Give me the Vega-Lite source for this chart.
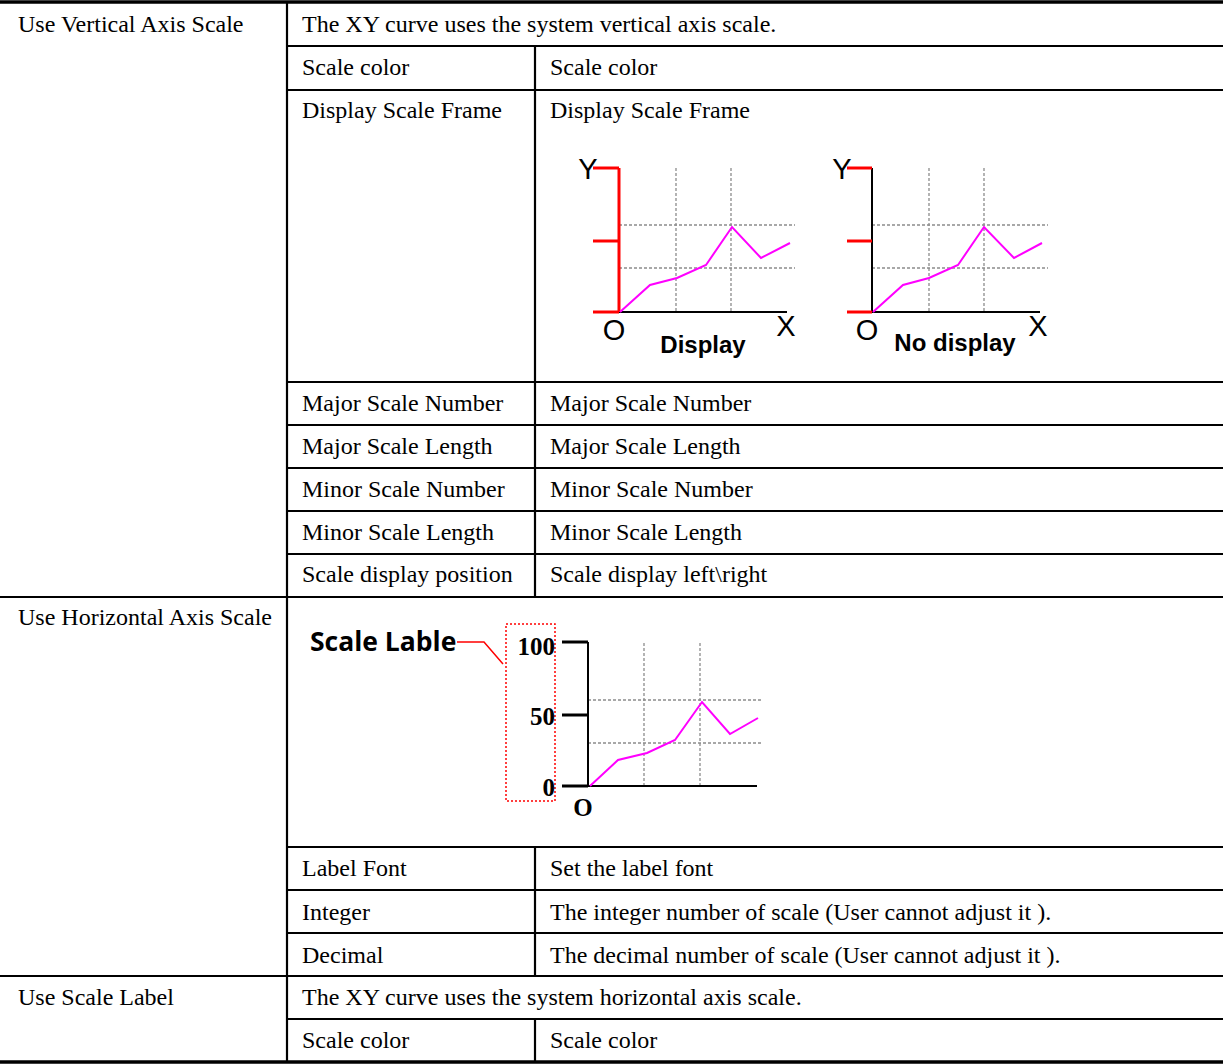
{
  "$schema": "https://vega.github.io/schema/vega-lite/v6.json",
  "width": 1223,
  "height": 1064,
  "padding": 0,
  "autosize": "none",
  "background": "white",
  "config": {"view": {"stroke": null}},
  "datasets": {
    "thick": [
      {"x": 0, "x2": 1223, "y": 2, "y2": 2},
      {"x": 0, "x2": 1223, "y": 1062, "y2": 1062}
    ],
    "grid": [
      {"x": 287, "x2": 1223, "y": 46, "y2": 46},
      {"x": 287, "x2": 1223, "y": 90, "y2": 90},
      {"x": 287, "x2": 1223, "y": 382, "y2": 382},
      {"x": 287, "x2": 1223, "y": 425, "y2": 425},
      {"x": 287, "x2": 1223, "y": 468, "y2": 468},
      {"x": 287, "x2": 1223, "y": 511, "y2": 511},
      {"x": 287, "x2": 1223, "y": 554, "y2": 554},
      {"x": 0, "x2": 1223, "y": 597, "y2": 597},
      {"x": 287, "x2": 1223, "y": 847, "y2": 847},
      {"x": 287, "x2": 1223, "y": 890, "y2": 890},
      {"x": 287, "x2": 1223, "y": 933, "y2": 933},
      {"x": 0, "x2": 1223, "y": 976, "y2": 976},
      {"x": 287, "x2": 1223, "y": 1019, "y2": 1019},
      {"x": 287, "x2": 287, "y": 3, "y2": 1062},
      {"x": 535, "x2": 535, "y": 46, "y2": 597},
      {"x": 535, "x2": 535, "y": 847, "y2": 976},
      {"x": 535, "x2": 535, "y": 1019, "y2": 1062}
    ],
    "cells": [
      {"x": 18, "y": 25, "label": "Use Vertical Axis Scale"},
      {"x": 302, "y": 25, "label": "The XY curve uses the system vertical axis scale."},
      {"x": 302, "y": 68, "label": "Scale color"},
      {"x": 550, "y": 68, "label": "Scale color"},
      {"x": 302, "y": 111, "label": "Display Scale Frame"},
      {"x": 550, "y": 111, "label": "Display Scale Frame"},
      {"x": 302, "y": 404, "label": "Major Scale Number"},
      {"x": 550, "y": 404, "label": "Major Scale Number"},
      {"x": 302, "y": 447, "label": "Major Scale Length"},
      {"x": 550, "y": 447, "label": "Major Scale Length"},
      {"x": 302, "y": 490, "label": "Minor Scale Number"},
      {"x": 550, "y": 490, "label": "Minor Scale Number"},
      {"x": 302, "y": 533, "label": "Minor Scale Length"},
      {"x": 550, "y": 533, "label": "Minor Scale Length"},
      {"x": 302, "y": 575, "label": "Scale display position"},
      {"x": 550, "y": 575, "label": "Scale display left\\right"},
      {"x": 18, "y": 618, "label": "Use Horizontal Axis Scale"},
      {"x": 302, "y": 869, "label": "Label Font"},
      {"x": 550, "y": 869, "label": "Set the label font"},
      {"x": 302, "y": 913, "label": "Integer"},
      {"x": 550, "y": 913, "label": "The integer number of scale (User cannot adjust it )."},
      {"x": 302, "y": 956, "label": "Decimal"},
      {"x": 550, "y": 956, "label": "The decimal number of scale (User cannot adjust it )."},
      {"x": 18, "y": 998, "label": "Use Scale Label"},
      {"x": 302, "y": 998, "label": "The XY curve uses the system horizontal axis scale."},
      {"x": 302, "y": 1041, "label": "Scale color"},
      {"x": 550, "y": 1041, "label": "Scale color"}
    ],
    "redAxis": [
      {"x": 619, "x2": 619, "y": 168, "y2": 312},
      {"x": 593, "x2": 619, "y": 168, "y2": 168},
      {"x": 593, "x2": 619, "y": 241, "y2": 241},
      {"x": 593, "x2": 619, "y": 312, "y2": 312},
      {"x": 847, "x2": 872, "y": 168, "y2": 168},
      {"x": 847, "x2": 872, "y": 241, "y2": 241},
      {"x": 847, "x2": 872, "y": 312, "y2": 312}
    ],
    "blackAxis": [
      {"x": 619, "x2": 787, "y": 312, "y2": 312},
      {"x": 872, "x2": 872, "y": 168, "y2": 312},
      {"x": 872, "x2": 1040, "y": 312, "y2": 312},
      {"x": 588, "x2": 588, "y": 642, "y2": 786},
      {"x": 588, "x2": 757, "y": 786, "y2": 786}
    ],
    "blackTicks": [
      {"x": 562, "x2": 588, "y": 642, "y2": 642},
      {"x": 562, "x2": 588, "y": 715, "y2": 715},
      {"x": 562, "x2": 588, "y": 786, "y2": 786}
    ],
    "dashed": [
      {"x": 676, "x2": 676, "y": 168, "y2": 312},
      {"x": 731, "x2": 731, "y": 168, "y2": 312},
      {"x": 619, "x2": 795, "y": 225, "y2": 225},
      {"x": 619, "x2": 795, "y": 268, "y2": 268},
      {"x": 929, "x2": 929, "y": 168, "y2": 312},
      {"x": 984, "x2": 984, "y": 168, "y2": 312},
      {"x": 872, "x2": 1048, "y": 225, "y2": 225},
      {"x": 872, "x2": 1048, "y": 268, "y2": 268},
      {"x": 644, "x2": 644, "y": 643, "y2": 786},
      {"x": 700, "x2": 700, "y": 643, "y2": 786},
      {"x": 588, "x2": 763, "y": 700, "y2": 700},
      {"x": 588, "x2": 763, "y": 743, "y2": 743}
    ],
    "curves": [
      {"chart": "display", "x": 620, "y": 312},
      {"chart": "display", "x": 650, "y": 285},
      {"chart": "display", "x": 677, "y": 278},
      {"chart": "display", "x": 706, "y": 265},
      {"chart": "display", "x": 732, "y": 227},
      {"chart": "display", "x": 761, "y": 258},
      {"chart": "display", "x": 790, "y": 243},
      {"chart": "nodisplay", "x": 873, "y": 312},
      {"chart": "nodisplay", "x": 903, "y": 285},
      {"chart": "nodisplay", "x": 929, "y": 278},
      {"chart": "nodisplay", "x": 958, "y": 265},
      {"chart": "nodisplay", "x": 984, "y": 227},
      {"chart": "nodisplay", "x": 1014, "y": 258},
      {"chart": "nodisplay", "x": 1042, "y": 243},
      {"chart": "label", "x": 590, "y": 786},
      {"chart": "label", "x": 618, "y": 760},
      {"chart": "label", "x": 647, "y": 753},
      {"chart": "label", "x": 675, "y": 740},
      {"chart": "label", "x": 702, "y": 702},
      {"chart": "label", "x": 730, "y": 734},
      {"chart": "label", "x": 758, "y": 718}
    ],
    "leader": [
      {"i": 0, "x": 457, "y": 642},
      {"i": 1, "x": 484, "y": 642},
      {"i": 2, "x": 503, "y": 664}
    ],
    "box": [
      {"x": 506, "x2": 555, "y": 624, "y2": 801}
    ],
    "sansLabels": [
      {"x": 588, "y": 170, "label": "Y"},
      {"x": 614, "y": 331, "label": "O"},
      {"x": 786, "y": 327, "label": "X"},
      {"x": 842, "y": 170, "label": "Y"},
      {"x": 867, "y": 331, "label": "O"},
      {"x": 1038, "y": 327, "label": "X"}
    ],
    "captions": [
      {"x": 703, "y": 346, "label": "Display"},
      {"x": 955, "y": 344, "label": "No display"}
    ],
    "scaleNums": [
      {"x": 555, "y": 647, "label": "100"},
      {"x": 555, "y": 717, "label": "50"},
      {"x": 555, "y": 788, "label": "0"}
    ],
    "origin3": [
      {"x": 583, "y": 808, "label": "O"}
    ],
    "callout": [
      {"x": 310, "y": 643, "label": "Scale Lable"}
    ]
  },
  "layer": [
    {
      "data": {"name": "grid"},
      "mark": {"type": "rule", "color": "#000000", "strokeWidth": 2.2},
      "encoding": {
        "x": {"field": "x", "type": "quantitative", "scale": {"domain": [0, 1223], "nice": false, "zero": false}, "axis": null},
        "x2": {"field": "x2"},
        "y": {"field": "y", "type": "quantitative", "scale": {"domain": [0, 1064], "nice": false, "zero": false, "reverse": true}, "axis": null},
        "y2": {"field": "y2"}
      }
    },
    {
      "data": {"name": "thick"},
      "mark": {"type": "rule", "color": "#000000", "strokeWidth": 3.5},
      "encoding": {
        "x": {"field": "x", "type": "quantitative", "scale": {"domain": [0, 1223], "nice": false, "zero": false}, "axis": null},
        "x2": {"field": "x2"},
        "y": {"field": "y", "type": "quantitative", "scale": {"domain": [0, 1064], "nice": false, "zero": false, "reverse": true}, "axis": null},
        "y2": {"field": "y2"}
      }
    },
    {
      "data": {"name": "dashed"},
      "mark": {"type": "rule", "color": "#8c8c8c", "strokeWidth": 1.3, "strokeDash": [3, 2]},
      "encoding": {
        "x": {"field": "x", "type": "quantitative", "scale": {"domain": [0, 1223], "nice": false, "zero": false}, "axis": null},
        "x2": {"field": "x2"},
        "y": {"field": "y", "type": "quantitative", "scale": {"domain": [0, 1064], "nice": false, "zero": false, "reverse": true}, "axis": null},
        "y2": {"field": "y2"}
      }
    },
    {
      "data": {"name": "blackAxis"},
      "mark": {"type": "rule", "color": "#000000", "strokeWidth": 2},
      "encoding": {
        "x": {"field": "x", "type": "quantitative", "scale": {"domain": [0, 1223], "nice": false, "zero": false}, "axis": null},
        "x2": {"field": "x2"},
        "y": {"field": "y", "type": "quantitative", "scale": {"domain": [0, 1064], "nice": false, "zero": false, "reverse": true}, "axis": null},
        "y2": {"field": "y2"}
      }
    },
    {
      "data": {"name": "blackTicks"},
      "mark": {"type": "rule", "color": "#000000", "strokeWidth": 3},
      "encoding": {
        "x": {"field": "x", "type": "quantitative", "scale": {"domain": [0, 1223], "nice": false, "zero": false}, "axis": null},
        "x2": {"field": "x2"},
        "y": {"field": "y", "type": "quantitative", "scale": {"domain": [0, 1064], "nice": false, "zero": false, "reverse": true}, "axis": null},
        "y2": {"field": "y2"}
      }
    },
    {
      "data": {"name": "redAxis"},
      "mark": {"type": "rule", "color": "#ff0000", "strokeWidth": 3},
      "encoding": {
        "x": {"field": "x", "type": "quantitative", "scale": {"domain": [0, 1223], "nice": false, "zero": false}, "axis": null},
        "x2": {"field": "x2"},
        "y": {"field": "y", "type": "quantitative", "scale": {"domain": [0, 1064], "nice": false, "zero": false, "reverse": true}, "axis": null},
        "y2": {"field": "y2"}
      }
    },
    {
      "data": {"name": "curves"},
      "mark": {"type": "line", "color": "#ff00ff", "strokeWidth": 2},
      "encoding": {
        "x": {"field": "x", "type": "quantitative", "scale": {"domain": [0, 1223], "nice": false, "zero": false}, "axis": null},
        "y": {"field": "y", "type": "quantitative", "scale": {"domain": [0, 1064], "nice": false, "zero": false, "reverse": true}, "axis": null},
        "detail": {"field": "chart", "type": "nominal"}
      }
    },
    {
      "data": {"name": "leader"},
      "mark": {"type": "line", "color": "#ff0000", "strokeWidth": 1.5},
      "encoding": {
        "x": {"field": "x", "type": "quantitative", "scale": {"domain": [0, 1223], "nice": false, "zero": false}, "axis": null},
        "y": {"field": "y", "type": "quantitative", "scale": {"domain": [0, 1064], "nice": false, "zero": false, "reverse": true}, "axis": null},
        "order": {"field": "i", "type": "quantitative"}
      }
    },
    {
      "data": {"name": "box"},
      "mark": {"type": "rect", "fill": null, "fillOpacity": 0, "stroke": "#ff0000", "strokeWidth": 1.5, "strokeDash": [2, 2]},
      "encoding": {
        "x": {"field": "x", "type": "quantitative", "scale": {"domain": [0, 1223], "nice": false, "zero": false}, "axis": null},
        "x2": {"field": "x2"},
        "y": {"field": "y", "type": "quantitative", "scale": {"domain": [0, 1064], "nice": false, "zero": false, "reverse": true}, "axis": null},
        "y2": {"field": "y2"}
      }
    },
    {
      "data": {"name": "cells"},
      "mark": {"type": "text", "align": "left", "baseline": "middle", "font": "Liberation Serif", "fontSize": 24, "color": "#000000"},
      "encoding": {
        "x": {"field": "x", "type": "quantitative", "scale": {"domain": [0, 1223], "nice": false, "zero": false}, "axis": null},
        "y": {"field": "y", "type": "quantitative", "scale": {"domain": [0, 1064], "nice": false, "zero": false, "reverse": true}, "axis": null},
        "text": {"field": "label"}
      }
    },
    {
      "data": {"name": "sansLabels"},
      "mark": {"type": "text", "align": "center", "baseline": "middle", "font": "Liberation Sans", "fontSize": 29, "color": "#000000"},
      "encoding": {
        "x": {"field": "x", "type": "quantitative", "scale": {"domain": [0, 1223], "nice": false, "zero": false}, "axis": null},
        "y": {"field": "y", "type": "quantitative", "scale": {"domain": [0, 1064], "nice": false, "zero": false, "reverse": true}, "axis": null},
        "text": {"field": "label"}
      }
    },
    {
      "data": {"name": "captions"},
      "mark": {"type": "text", "align": "center", "baseline": "middle", "font": "Liberation Sans", "fontWeight": "bold", "fontSize": 24, "color": "#000000"},
      "encoding": {
        "x": {"field": "x", "type": "quantitative", "scale": {"domain": [0, 1223], "nice": false, "zero": false}, "axis": null},
        "y": {"field": "y", "type": "quantitative", "scale": {"domain": [0, 1064], "nice": false, "zero": false, "reverse": true}, "axis": null},
        "text": {"field": "label"}
      }
    },
    {
      "data": {"name": "scaleNums"},
      "mark": {"type": "text", "align": "right", "baseline": "middle", "font": "Liberation Serif", "fontWeight": "bold", "fontSize": 25, "color": "#000000"},
      "encoding": {
        "x": {"field": "x", "type": "quantitative", "scale": {"domain": [0, 1223], "nice": false, "zero": false}, "axis": null},
        "y": {"field": "y", "type": "quantitative", "scale": {"domain": [0, 1064], "nice": false, "zero": false, "reverse": true}, "axis": null},
        "text": {"field": "label"}
      }
    },
    {
      "data": {"name": "origin3"},
      "mark": {"type": "text", "align": "center", "baseline": "middle", "font": "Liberation Serif", "fontWeight": "bold", "fontSize": 25, "color": "#000000"},
      "encoding": {
        "x": {"field": "x", "type": "quantitative", "scale": {"domain": [0, 1223], "nice": false, "zero": false}, "axis": null},
        "y": {"field": "y", "type": "quantitative", "scale": {"domain": [0, 1064], "nice": false, "zero": false, "reverse": true}, "axis": null},
        "text": {"field": "label"}
      }
    },
    {
      "data": {"name": "callout"},
      "mark": {"type": "text", "align": "left", "baseline": "middle", "font": "Open Sans", "fontWeight": "bold", "fontSize": 26.5, "color": "#000000"},
      "encoding": {
        "x": {"field": "x", "type": "quantitative", "scale": {"domain": [0, 1223], "nice": false, "zero": false}, "axis": null},
        "y": {"field": "y", "type": "quantitative", "scale": {"domain": [0, 1064], "nice": false, "zero": false, "reverse": true}, "axis": null},
        "text": {"field": "label"}
      }
    }
  ]
}
